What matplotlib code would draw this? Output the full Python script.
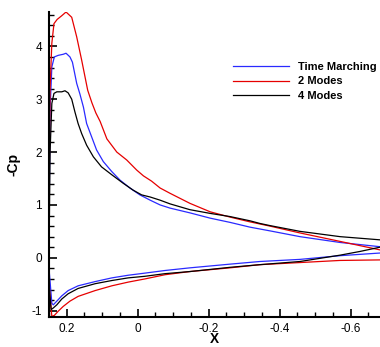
import numpy as np
import matplotlib.pyplot as plt
from matplotlib.ticker import MultipleLocator

plt.rcParams['font.family'] = ['Liberation Sans', 'DejaVu Sans']

# --- Daten ---
# Oberseite: Hinterkante -> Vorderkante, Unterseite: Vorderkante -> Hinterkante

# Time Marching
x_upper_tm = [-0.682, -0.570, -0.457, -0.372, -0.316, -0.260, -0.204, -0.147, -0.091,
              -0.063, -0.035, -0.006, 0.022, 0.050, 0.073, 0.097, 0.116, 0.130, 0.144,
              0.153, 0.163, 0.172, 0.184, 0.191, 0.202, 0.210, 0.224, 0.235, 0.242,
              0.247, 0.250]
cp_upper_tm = [0.21, 0.29, 0.40, 0.51, 0.58, 0.67, 0.75, 0.85, 0.94,
               1.00, 1.09, 1.19, 1.32, 1.47, 1.63, 1.82, 2.04, 2.29, 2.54,
               2.85, 3.10, 3.30, 3.70, 3.80, 3.87, 3.85, 3.83, 3.80, 3.61,
               2.80, 0.50]
x_lower_tm = [0.250, 0.242, 0.238, 0.228, 0.214, 0.196, 0.168, 0.120, 0.073, 0.027,
              -0.020, -0.077, -0.147, -0.260, -0.344, -0.457, -0.570, -0.682]
cp_lower_tm = [-0.20, -0.86, -0.89, -0.82, -0.72, -0.62, -0.53, -0.45, -0.38, -0.33,
               -0.29, -0.24, -0.19, -0.12, -0.07, -0.03, 0.04, 0.09]

# 2 Modes
x_upper_2m = [-0.682, -0.626, -0.570, -0.457, -0.372, -0.344, -0.316, -0.260, -0.204,
              -0.147, -0.091, -0.063, -0.039, -0.016, 0.003, 0.031, 0.059, 0.087,
              0.106, 0.118, 0.129, 0.141, 0.158, 0.172, 0.186, 0.202, 0.214, 0.227,
              0.236, 0.242, 0.247, 0.250]
cp_upper_2m = [0.15, 0.23, 0.31, 0.47, 0.60, 0.64, 0.68, 0.77, 0.87,
               1.03, 1.22, 1.32, 1.45, 1.55, 1.66, 1.85, 2.00, 2.25,
               2.58, 2.74, 2.93, 3.17, 3.74, 4.18, 4.55, 4.65, 4.58, 4.51,
               4.43, 4.06, 3.20, 1.00]
x_lower_2m = [0.250, 0.242, 0.235, 0.224, 0.210, 0.191, 0.168, 0.120, 0.073, 0.027,
              -0.020, -0.077, -0.147, -0.260, -0.344, -0.457, -0.570, -0.682]
cp_lower_2m = [-0.50, -1.11, -1.09, -1.01, -0.92, -0.82, -0.73, -0.62, -0.53, -0.46,
               -0.40, -0.32, -0.26, -0.19, -0.13, -0.09, -0.05, -0.04]

# 4 Modes
x_upper_4m = [-0.682, -0.570, -0.457, -0.372, -0.344, -0.316, -0.260, -0.204, -0.147,
              -0.091, -0.063, -0.035, -0.011, 0.013, 0.041, 0.073, 0.102, 0.125,
              0.144, 0.158, 0.168, 0.177, 0.186, 0.196, 0.205, 0.214, 0.228, 0.236,
              0.242, 0.247, 0.250]
cp_upper_4m = [0.34, 0.40, 0.50, 0.61, 0.65, 0.70, 0.78, 0.84, 0.91,
               1.02, 1.09, 1.15, 1.19, 1.28, 1.41, 1.57, 1.72, 1.91,
               2.13, 2.35, 2.54, 2.76, 3.00, 3.12, 3.16, 3.14, 3.14, 3.11,
               2.92, 2.00, 0.00]
x_lower_4m = [0.250, 0.244, 0.238, 0.228, 0.214, 0.196, 0.168, 0.120, 0.073, 0.027,
              -0.020, -0.077, -0.147, -0.260, -0.344, -0.457, -0.570, -0.626, -0.682]
cp_lower_4m = [-0.50, -0.98, -0.95, -0.89, -0.78, -0.68, -0.58, -0.49, -0.43, -0.38,
               -0.35, -0.30, -0.26, -0.18, -0.13, -0.07, 0.05, 0.12, 0.20]

curves = [
    ("Time Marching", x_upper_tm + x_lower_tm, cp_upper_tm + cp_lower_tm, "#2a2aff"),
    ("2 Modes", x_upper_2m + x_lower_2m, cp_upper_2m + cp_lower_2m, "#e60000"),
    ("4 Modes", x_upper_4m + x_lower_4m, cp_upper_4m + cp_lower_4m, "black"),
]

# --- Plot ---
fig = plt.figure(figsize=(3.8, 3.47), dpi=100)
ax = fig.add_axes([49 / 380, 30 / 347, 331 / 380, 305 / 347])

for label, xs, cps, color in curves:
    ax.plot(xs, cps, color=color, lw=0.9, label=label)

ax.set_xlim(0.25, -0.6824)
ax.set_ylim(-1.12, 4.65)
ax.xaxis.set_minor_locator(MultipleLocator(0.05))
ax.yaxis.set_minor_locator(MultipleLocator(0.2))
ax.set_xticks([0.2, 0, -0.2, -0.4, -0.6])
ax.set_xticklabels(["0.2", "0", "-0.2", "-0.4", "-0.6"])
ax.set_yticks([-1, 0, 1, 2, 3, 4])
ax.set_yticklabels(["-1", "0", "1", "2", "3", "4"])

for s in ["top", "right"]:
    ax.spines[s].set_visible(False)
for s in ["left", "bottom"]:
    ax.spines[s].set_linewidth(1.5)

ax.tick_params(which="major", direction="in", length=6, width=1.2, labelsize=8.5, pad=5)
ax.tick_params(axis="x", which="major", pad=4)
ax.tick_params(which="minor", direction="in", length=3.5, width=1)

ax.set_xlabel("X", fontsize=9.8, fontweight="bold")
ax.xaxis.set_label_coords(0.5, -0.048)
ax.set_ylabel("-Cp", fontsize=10, fontweight="bold", labelpad=8)

fig.legend(loc="upper left", bbox_to_anchor=(233 / 380, 1 - 62 / 347),
           frameon=False, borderpad=0, borderaxespad=0, handlelength=5.0,
           handletextpad=0.85, labelspacing=0.4,
           prop={"size": 8, "weight": "bold"})

plt.savefig("out.png", dpi=100)
